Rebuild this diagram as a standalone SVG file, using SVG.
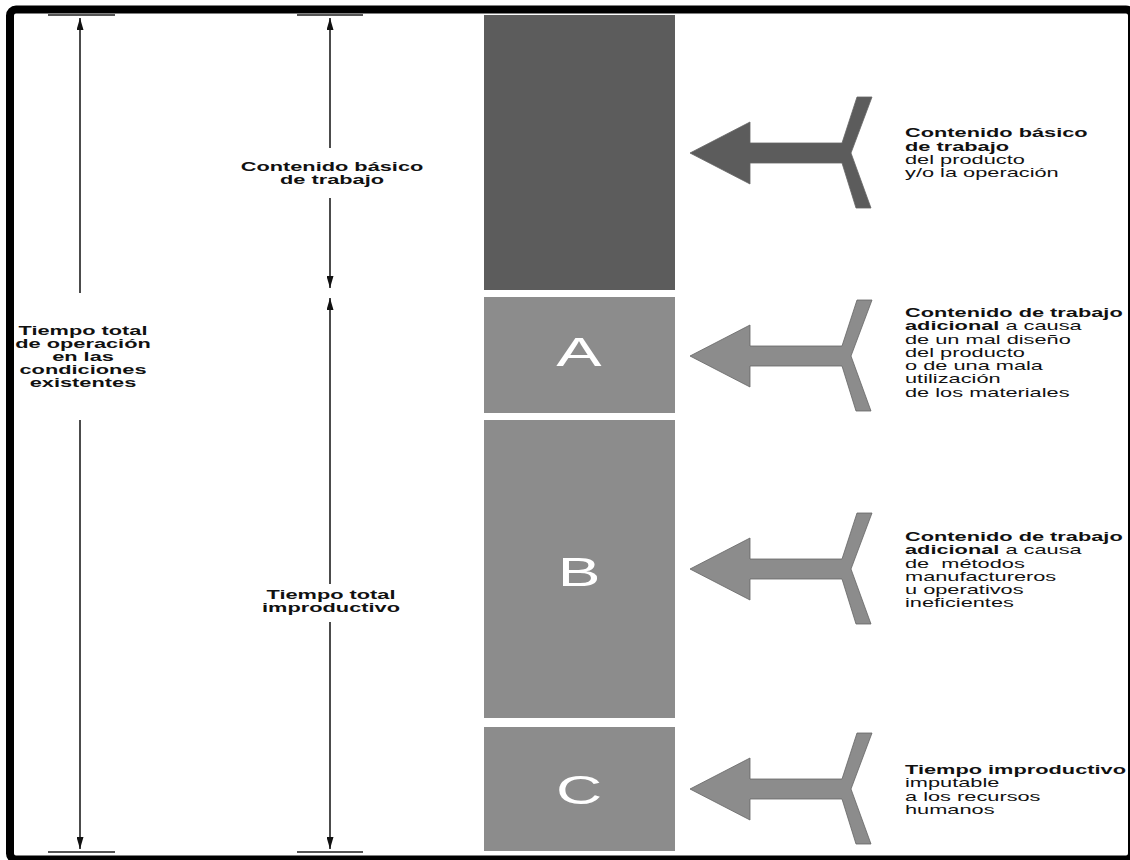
<svg xmlns="http://www.w3.org/2000/svg" width="1130" height="860" viewBox="0 0 1130 860">
  <style>
    .t { font-family: "Liberation Sans", Arial, sans-serif; font-size: 13.2px; fill: #111; }
    .b { font-weight: bold; }
    .big { font-family: "Liberation Sans", Arial, sans-serif; font-size: 40px; fill: #fff; text-anchor: middle; }
    .dim { stroke: #111; stroke-width: 1.5; fill: none; marker-end: url(#ah); }
    .tick { stroke: #555; stroke-width: 2; }
    .dark { fill: #5c5c5c; }
    .light { fill: #8c8c8c; }
    .arr { stroke: #666; stroke-width: 0.8; }
  </style>
  <defs>
    <marker id="ah" markerUnits="userSpaceOnUse" markerWidth="12" markerHeight="7" refX="12" refY="3.5" orient="auto">
      <path d="M0,0 L12,3.5 L0,7 z" fill="#111"/>
    </marker>
    <path id="yarrow" d="M690,0 L750,-31 L750,-10 L842,-10 L857,-56 L872,-56 L851,0 L871,55 L856,55 L842,10 L750,10 L750,31 Z"/>
  </defs>
  <rect x="0" y="0" width="1130" height="860" fill="#fff"/>
  <rect x="10" y="9.5" width="1122" height="850" rx="6" fill="none" stroke="#000" stroke-width="8"/>

  <g id="connectors">
    <line class="tick" x1="48" y1="15" x2="115" y2="15"/>
    <line class="tick" x1="297" y1="15" x2="363" y2="15"/>
    <line class="tick" x1="48" y1="852" x2="115" y2="852"/>
    <line class="tick" x1="297" y1="852" x2="363" y2="852"/>
    <line class="dim" x1="80" y1="293" x2="80" y2="18"/>
    <line class="dim" x1="80" y1="420" x2="80" y2="849"/>
    <line class="dim" x1="330" y1="148" x2="330" y2="18"/>
    <line class="dim" x1="330" y1="198" x2="330" y2="288"/>
    <line class="dim" x1="330" y1="584" x2="330" y2="298"/>
    <line class="dim" x1="330" y1="622" x2="330" y2="849"/>
  </g>

  <g id="label-total">
    <g transform="translate(83,0) scale(1.65,1)" class="t b" text-anchor="middle">
      <text x="0" y="335">Tiempo total</text>
      <text x="0" y="348">de operación</text>
      <text x="0" y="361">en las</text>
      <text x="0" y="374">condiciones</text>
      <text x="0" y="387">existentes</text>
    </g>
  </g>
  <g id="label-basico">
    <g transform="translate(332,0) scale(1.65,1)" class="t b" text-anchor="middle">
      <text x="0" y="171">Contenido básico</text>
      <text x="0" y="184.3">de trabajo</text>
    </g>
  </g>
  <g id="label-improductivo">
    <g transform="translate(331,0) scale(1.65,1)" class="t b" text-anchor="middle">
      <text x="0" y="599">Tiempo total</text>
      <text x="0" y="612.3">improductivo</text>
    </g>
  </g>

  <g id="bar-basic">
    <rect class="dark" x="484" y="15" width="191" height="275"/>
  </g>
  <g id="bar-A">
    <rect class="light" x="484" y="297" width="191" height="116"/>
    <text class="big" transform="translate(579,366) scale(1.7,1)" x="0" y="0">A</text>
  </g>
  <g id="bar-B">
    <rect class="light" x="484" y="420" width="191" height="298"/>
    <text class="big" transform="translate(579,586) scale(1.6,1)" x="0" y="0">B</text>
  </g>
  <g id="bar-C">
    <rect class="light" x="484" y="727" width="191" height="124"/>
    <text class="big" transform="translate(579,804) scale(1.6,1)" x="0" y="0">C</text>
  </g>

  <g id="cause-basic">
    <use href="#yarrow" class="dark arr" transform="translate(0,153)"/>
    <g transform="translate(905,0) scale(1.65,1)" class="t">
      <text x="0" y="137.5" class="b">Contenido básico</text>
      <text x="0" y="150.8" class="b">de trabajo</text>
      <text x="0" y="164.1">del producto</text>
      <text x="0" y="177.4">y/o la operación</text>
    </g>
  </g>
  <g id="cause-A">
    <use href="#yarrow" class="light arr" transform="translate(0,356)"/>
    <g transform="translate(905,0) scale(1.65,1)" class="t">
      <text x="0" y="317" class="b">Contenido de trabajo</text>
      <text x="0" y="330.3"><tspan class="b">adicional</tspan> a causa</text>
      <text x="0" y="343.6">de un mal diseño</text>
      <text x="0" y="356.9">del producto</text>
      <text x="0" y="370.2">o de una mala</text>
      <text x="0" y="383.5">utilización</text>
      <text x="0" y="396.8">de los materiales</text>
    </g>
  </g>
  <g id="cause-B">
    <use href="#yarrow" class="light arr" transform="translate(0,569)"/>
    <g transform="translate(905,0) scale(1.65,1)" class="t">
      <text x="0" y="541" class="b">Contenido de trabajo</text>
      <text x="0" y="554.3"><tspan class="b">adicional</tspan> a causa</text>
      <text x="0" y="567.6" xml:space="preserve">de  métodos</text>
      <text x="0" y="580.9">manufactureros</text>
      <text x="0" y="594.2">u operativos</text>
      <text x="0" y="607.5">ineficientes</text>
    </g>
  </g>
  <g id="cause-C">
    <use href="#yarrow" class="light arr" transform="translate(0,789)"/>
    <g transform="translate(905,0) scale(1.65,1)" class="t">
      <text x="0" y="774" class="b">Tiempo improductivo</text>
      <text x="0" y="787.3">imputable</text>
      <text x="0" y="800.6">a los recursos</text>
      <text x="0" y="813.9">humanos</text>
    </g>
  </g>
</svg>
